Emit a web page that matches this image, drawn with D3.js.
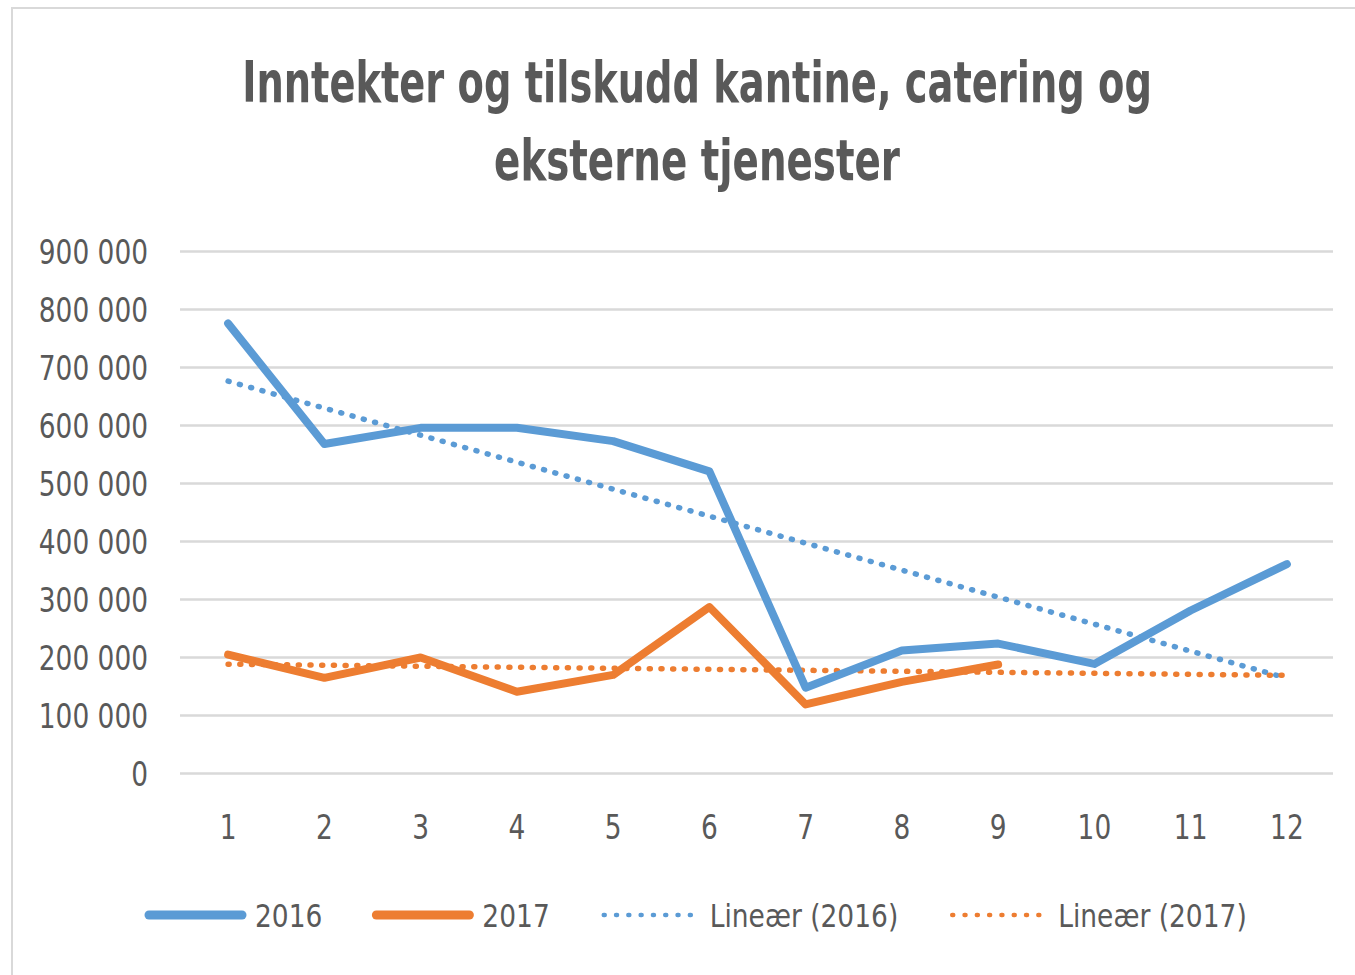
<!DOCTYPE html>
<html>
<head>
<meta charset="utf-8">
<script src="https://cdn.jsdelivr.net/npm/d3@7"></script>
<style>
  html, body { margin: 0; padding: 0; background: #fff; }
  svg { display: block; }
  text { font-family: "Liberation Sans Narrow", "DejaVu Sans Condensed", "Liberation Sans", sans-serif; fill: #595959; }
</style>
</head>
<body>
<svg id="chart" width="1355" height="975"></svg>
<script>
// ---- data ----
const titleLines = ["Inntekter og tilskudd kantine, catering og", "eksterne tjenester"];
const months = ["1","2","3","4","5","6","7","8","9","10","11","12"];
const values2016 = [776000, 568000, 596000, 596000, 573000, 521000, 148000, 212000, 224000, 189000, 281000, 361000];
const values2017 = [205000, 165000, 200000, 141000, 170000, 287000, 119000, 158000, 188000];
const yTicks = [0, 100000, 200000, 300000, 400000, 500000, 600000, 700000, 800000, 900000];
const seriesNames = ["2016", "2017"];
const trendNames = ["Lineær (2016)", "Lineær (2017)"];
const colors = ["#5B9BD5", "#ED7D31"];

// ---- setup ----
const SX = 0.89; // horizontal squeeze to imitate a condensed face
const SXL = 0.92;
const svg = d3.select("#chart");
svg.append("rect").attr("x", 12).attr("y", 8).attr("width", 1400).attr("height", 1000)
  .attr("fill", "#fff").attr("stroke", "#D9D9D9").attr("stroke-width", 2);

const x = d3.scaleBand().domain(months).range([180, 1335]).padding(0);
const xc = m => x(m) + x.bandwidth() / 2;
const y = d3.scaleLinear().domain([0, 900000]).range([773.5, 251.5]);

// title
const titleWidths = [910, 406];
titleLines.forEach((line, i) => {
  const g = svg.append("g");
  const t = g.append("text").attr("x", 0).attr("y", 0)
    .attr("text-anchor", "middle")
    .attr("font-size", 57).attr("font-weight", "bold")
    .text(line);
  const w = t.node().getComputedTextLength();
  g.attr("transform", `translate(697,${102 + i * 78}) scale(${titleWidths[i] / w},1)`);
});

// gridlines
const fmt = v => d3.format(",")(v).replace(/,/g, " ");
svg.append("g").selectAll("line").data(yTicks).join("line")
  .attr("x1", 180).attr("x2", 1333)
  .attr("y1", d => y(d)).attr("y2", d => y(d))
  .attr("stroke", "#D9D9D9").attr("stroke-width", 2.5);

// y axis labels
const yAxis = d3.axisLeft(y).tickValues(yTicks).tickFormat(fmt).tickSize(0).tickPadding(0);
const gy = svg.append("g").attr("transform", "translate(148,0)").call(yAxis);
gy.select(".domain").remove();
gy.selectAll("text").attr("font-size", 33).attr("fill", "#595959")
  .attr("font-family", null).attr("dy", "0.36em")
  .attr("transform", `scale(${SX},1)`);

// x axis labels
const xAxis = d3.axisBottom(x).tickSize(0).tickPadding(0);
const gx = svg.append("g").attr("transform", "translate(0,816)").call(xAxis);
gx.select(".domain").remove();
gx.selectAll("text").attr("font-size", 33).attr("fill", "#595959")
  .attr("font-family", null).attr("dy", "0.71em")
  .attr("transform", `scale(${SX},1)`);

// linear regression trend
function trend(vals) {
  const xs = vals.map((v, i) => i + 1);
  const mx = d3.mean(xs), my = d3.mean(vals);
  const sxy = d3.sum(vals, (v, i) => (xs[i] - mx) * (v - my));
  const sxx = d3.sum(xs, xv => (xv - mx) * (xv - mx));
  const b = sxy / sxx, a = my - b * mx;
  return months.map((m, i) => ({ m, v: a + b * (i + 1) }));
}

const line = d3.line().x(d => xc(d.m)).y(d => y(d.v));
const allSeries = [values2016, values2017];

// trend lines
allSeries.forEach((vals, k) => {
  svg.append("path").datum(trend(vals))
    .attr("d", line).attr("fill", "none")
    .attr("stroke", colors[k]).attr("stroke-width", 5.5)
    .attr("stroke-linecap", "round").attr("stroke-dasharray", "1 10.7");
});

// data lines
allSeries.forEach((vals, k) => {
  svg.append("path").datum(vals.map((v, i) => ({ m: months[i], v })))
    .attr("d", line).attr("fill", "none")
    .attr("stroke", colors[k]).attr("stroke-width", 8)
    .attr("stroke-linejoin", "round").attr("stroke-linecap", "round");
});

// legend
const legendItems = [
  { name: seriesNames[0], color: colors[0], dotted: false },
  { name: seriesNames[1], color: colors[1], dotted: false },
  { name: trendNames[0], color: colors[0], dotted: true },
  { name: trendNames[1], color: colors[1], dotted: true }
];
const lg = svg.append("g");
let cx = 145;
const ly = 915;
legendItems.forEach(it => {
  const g = lg.append("g");
  g.append("line").attr("x1", cx + 4).attr("x2", cx + 97).attr("y1", ly).attr("y2", ly)
    .attr("stroke", it.color)
    .attr("stroke-width", it.dotted ? 4.5 : 9)
    .attr("stroke-linecap", "round")
    .attr("stroke-dasharray", it.dotted ? "1 11.3" : null);
  const tg = g.append("g").attr("transform", `translate(${cx + 110},${ly + 12}) scale(${SXL},1)`);
  const t = tg.append("text").attr("x", 0).attr("y", 0)
    .attr("font-size", 32).text(it.name);
  const w = t.node().getComputedTextLength() * SXL;
  cx += 110 + w + 50;
});
</script>
</body>
</html>
